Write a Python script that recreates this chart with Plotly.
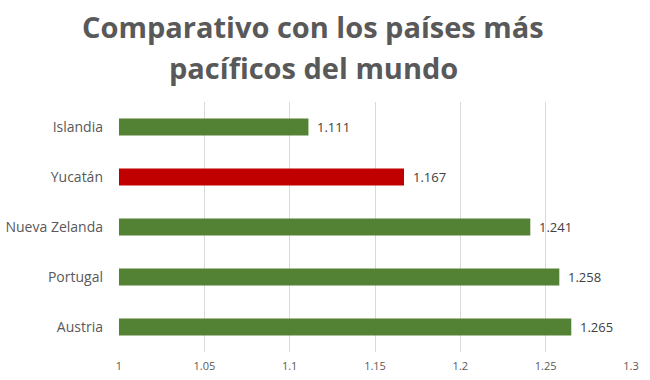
import plotly.graph_objects as go

categories = ["Austria", "Portugal", "Nueva Zelanda", "Yucatán", "Islandia"]
values = [1.265, 1.258, 1.241, 1.167, 1.111]
colors = ["#548235", "#548235", "#548235", "#C00000", "#548235"]
tick_vals = [1, 1.05, 1.1, 1.15, 1.2, 1.25, 1.3]
tick_text = ["1", "1.05", "1.1", "1.15", "1.2", "1.25", "1.3"]
title_lines = ["Comparativo con los países más", "pacíficos del mundo"]

W, H = 650, 380
L, R, T, B = 119, 19, 102, 28
plot_w, plot_h = W - L - R, H - T - B

fig = go.Figure(go.Bar(
    y=categories, x=[v - 1 for v in values], base=1, orientation="h",
    marker=dict(color=colors, line=dict(width=0)),
    width=0.34,
    hoverinfo="skip",
))

for c, v in zip(categories, values):
    fig.add_annotation(x=v, y=c, xref="x", yref="y", text=f"{v:.3f}",
                       showarrow=False, xanchor="left", xshift=7,
                       font=dict(family="Open Sans", size=13, color="#404040"))

title_cx = 313
for i, line in enumerate(title_lines):
    py = 27 + 41 * i
    fig.add_annotation(x=(title_cx - L) / plot_w, xref="paper",
                       y=1 + (T - py) / plot_h, yref="paper",
                       text=line, showarrow=False, xanchor="center", yanchor="middle",
                       font=dict(family="Open Sans", size=29, color="#595959", weight="bold"))

fig.update_layout(
    width=W, height=H,
    margin=dict(l=L, r=R, t=T, b=B, autoexpand=False),
    paper_bgcolor="white", plot_bgcolor="white",
    showlegend=False,
)
fig.update_xaxes(range=[1, 1.3], tickvals=tick_vals, ticktext=tick_text,
                 showgrid=True, gridcolor="#D9D9D9", gridwidth=1, zeroline=False,
                 tickfont=dict(family="Open Sans", size=11, color="#595959"),
                 showline=False, ticks="", automargin=False, ticklabelstandoff=6)
fig.update_yaxes(tickfont=dict(family="Open Sans", size=14, color="#595959"),
                 showgrid=False, ticks="", ticklabelstandoff=15, automargin=False)

fig.write_html("out.html", config={"displayModeBar": False},
               post_script="document.body.style.margin='0';")
